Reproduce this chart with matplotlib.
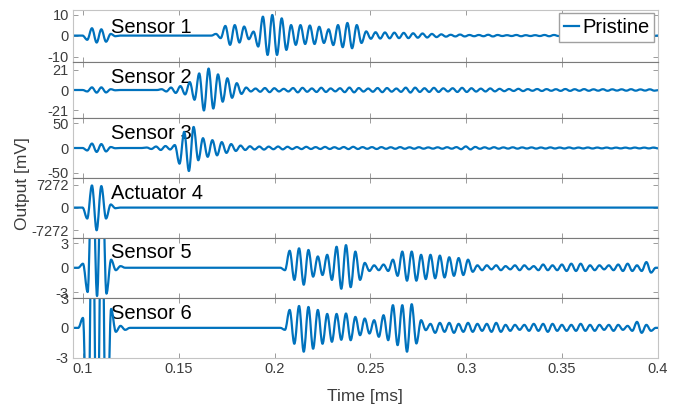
import numpy as np
import matplotlib.pyplot as plt
from matplotlib.path import Path
from matplotlib.patches import PathPatch
from matplotlib.lines import Line2D

plt.rcParams['font.family'] = ['Liberation Sans', 'DejaVu Sans']

BLUE = '#0072BD'
HALF = 0.00245          # half a carrier period [ms]
T_START, T_END = 0.0948, 0.4

# every channel: list of (time of first extremum [ms], successive half-cycle extrema [mV])
sensor1 = [
    (0.10224, [-2.0, 3.5, -3.3, 3.0, -2.9, 0.8, -0.3]),
    (0.16943, [0.8, -1.2, 4.6, -4.4, 5.0, -3.3, 4.3, -1.7, 1.9, -5.2,
               9.0, -9.2, 9.8, -9.2, 8.2, -6.8, 5.0, -4.4, 5.0, -4.0,
               4.8, -4.0, 4.2, -3.5, 3.0, -4.5, 5.0, -5.5, 6.0, -6.0,
               5.0, -3.5, 2.0, -1.5, 1.6, -1.4, 1.5, -1.3, 1.4, -1.2,
               1.3, -1.2, 1.1, -1.0, 1.0, -0.9, 0.8, -0.7, 0.6,
               -0.5, 0.4, -0.4, 0.5, -0.4, 0.3, -0.3, 0.3, -0.3, 0.4,
               -0.4, 0.3, -0.2, 0.2, -0.2, 0.3, -0.3, 0.2, -0.2, 0.2,
               -0.2, 0.3, -0.3, 0.3, -0.2, 0.2, -0.2, 0.2, -0.2, 0.3,
               -0.3, 0.2, -0.2, 0.2, -0.2, 0.2, -0.2, 0.3, -0.3, 0.2,
               -0.2, 0.2, -0.2, 0.2, -0.2]),
]
sensor2 = [
    (0.10224, [-1.5, 2.7, -2.7, 2.7, -2.5, 0.8, -0.3]),
    (0.14108, [0.8, -1.5, 2.5, -3.0, 4.0, -4.5, 8.0, -10, 17, -21,
               22, -19, 16, -12, 12, -8, 7, -4, 2.5, -1.5,
               1.5, -1.8, 2.0, -2.2, 1.8, -1.5, 1.2, -1.5, 2.0, -2.4,
               2.2, -1.8, 1.6, -2.0, 2.3, -2.0, 1.6, -1.4, 1.8, -2.2,
               2.5, -2.4, 2.0, -1.6, 1.5, -1.8, 2.0, -2.2, 2.0, -1.7,
               1.5, -1.9, 2.4, -2.6, 2.4, -2.0, 1.8, -2.0, 2.2, -2.0,
               1.7, -1.5, 1.8, -2.0, 2.2, -2.0, 1.8, -1.6, 1.4, -1.5,
               1.6, -1.4, 1.2, -1.2, 1.0, -1.0, 1.2, -1.1, 0.9, -0.8,
               1.0, -1.0, 0.9, -0.8, 0.8, -0.9, 1.0, -0.9, 0.8, -0.8,
               0.9, -0.8, 0.7, -0.7, 0.8, -0.8, 0.7, -0.6, 0.7, -0.7,
               0.8, -0.7, 0.6, -0.6, 0.7, -0.7]),
]
sensor3 = [
    (0.10224, [-5, 9, -8, 8, -7, 2, -0.5]),
    (0.13325, [1, -2, 3, -4, 4, -3, 6, -32, 33, -47,
               43, -25, 20, -18, 16, -15, 12, -10, 8, -6,
               5, -4, 3.5, -3.0, 3.0, -3.2, 2.8, -2.5, 3.0, -2.8,
               2.5, -2.2, 2.0, -2.2, 2.4, -2.0, 1.8, -2.0, 2.2, -2.0,
               1.6, -1.8, 2.0, -2.2, 2.4, -2.0, 1.8, -1.6, 1.8, -2.0,
               1.8, -1.6, 1.5, -1.6, 1.8, -1.6, 1.4, -1.5, 1.6, -1.4,
               1.2, -1.3, 1.4, -1.5, 1.6, -1.4, 1.8, -2.4, 3.2, -3.0,
               2.2, -1.6, 1.4, -1.5, 1.6, -1.4, 1.2, -1.2, 1.4, -1.3,
               1.2, -1.0, 1.2, -1.2, 1.0, -1.1, 1.2, -1.0, 0.9, -1.0,
               1.1, -1.0, 0.9, -0.9, 1.0, -1.0, 0.9, -0.8, 0.9, -0.9,
               0.8, -0.8, 0.8, -0.9, 0.9, -0.8, 0.8, -0.8, 0.9, -0.8]),
]
actuator4 = [
    (0.10224, [-3500, 7100, -7272, 6900, -3500, 1000, -200]),
]
sensor5 = [
    (0.1000, [0.5, -3.0, 15, -3.5, 15, -3.2, 1.0, -0.3, 0.2]),
    (0.20544, [-0.3, 2.1, -1.5, 2.4, -2.1, 2.2, -1.1, 1.4, -0.9, 1.6,
               -1.5, 2.6, -2.6, 2.8, -2.4, 2.0, -1.5, 0.6, -0.4, 0.3,
               -0.3, 0.4, -0.4, 1.0, -1.0, 2.0, -1.6, 2.0, -1.6, 1.6,
               -1.4, 1.6, -1.3, 1.5, -1.2, 1.3, -1.0, 1.2, -0.9, 1.0,
               -0.5, 0.3, -0.3, 0.3, -0.2, 0.3, -0.3, 0.2, -0.2, 0.3,
               -0.3, 0.3, -0.2, 0.2, -0.3, 0.4, -0.3, 0.3, -0.3, 0.4,
               -0.4, 0.5, -0.4, 0.5, -0.4, 0.3, -0.3, 0.3, -0.2, 0.3,
               -0.3, 0.4, -0.4, 0.5, -0.4, 0.3, -0.4, 0.7, -0.6]),
]
sensor6 = [
    (0.1000, [1.0, -15, 15, -15, 15, -15, 1.9, -0.4, 0.2, -0.2]),
    (0.20544, [-0.2, 1.8, -1.6, 2.2, -2.4, 2.1, -2.1, 1.8, -1.6, 1.4,
               -1.4, 1.4, -1.2, 1.44, -1.24, 1.1, -0.74, 0.94, -0.57, 0.77,
               -0.9, 1.27, -1.24, 2.28, -1.74, 2.28, -2.4, 2.38, -1.57, 0.77,
               -0.23, 0.4, -0.5, 0.5, -0.4, 0.5, -0.5, 0.4, -0.4, 0.5,
               -0.4, 0.4, -0.3, 0.4, -0.4, 0.5, -0.4, 0.3, -0.3, 0.3,
               -0.2, 0.3, -0.3, 0.4, -0.3, 0.4, -0.4, 0.4, -0.3, 0.3,
               -0.3, 0.3, -0.3, 0.4, -0.3, 0.3, -0.3, 0.3, -0.2, 0.3,
               -0.3, 0.3, -0.2, 0.2, -0.3, 0.6, -0.5, 0.3, -0.3]),
]

channels = [sensor1, sensor2, sensor3, actuator4, sensor5, sensor6]
names = ['Sensor 1', 'Sensor 2', 'Sensor 3', 'Actuator 4', 'Sensor 5', 'Sensor 6']
tick_amp = [10, 21, 50, 7272, 3, 3]
y_half = [12.4, 29.0, 60.6, 9580, 3.74, 3.0]
x_ticks = [0.1, 0.15, 0.2, 0.25, 0.3, 0.35, 0.4]
x_tick_labels = ['0.1', '0.15', '0.2', '0.25', '0.3', '0.35', '0.4']

# panel edges in pixels from the top of the figure
W, H = 683, 409
edges = [9.5, 61.7, 118.3, 177.7, 237.5, 298.0, 357.7]
left, right = 73, 657.7


def extrema(segments):
    pts = [(T_START - 0.003, 0.0)]
    for t0, vals in segments:
        ts = t0 + HALF * np.arange(len(vals))
        pts.append((t0 - HALF, 0.0))
        pts.extend(zip(ts, vals))
        pts.append((ts[-1] + HALF, 0.0))
    if pts[-1][0] < T_END:
        pts.append((T_END + 0.003, 0.0))
    return pts


def smooth_path(pts, k=0.36):
    # cubic pieces with flat tangents at every extremum
    verts = [pts[0]]
    codes = [Path.MOVETO]
    for (ta, ya), (tb, yb) in zip(pts[:-1], pts[1:]):
        dt = tb - ta
        verts += [(ta + k * dt, ya), (tb - k * dt, yb), (tb, yb)]
        codes += [Path.CURVE4] * 3
    return Path(verts, codes)


fig = plt.figure(figsize=(W / 100, H / 100), dpi=100)
axes = []
for i, segs in enumerate(channels):
    top, bot = edges[i], edges[i + 1]
    ax = fig.add_axes([left / W, 1 - bot / H, (right - left) / W, (bot - top) / H])
    axes.append(ax)

    ax.add_patch(PathPatch(smooth_path(extrema(segs)), fill=False,
                           edgecolor=BLUE, lw=1.6, joinstyle='round',
                           capstyle='round', zorder=2))

    ax.set_xlim(T_START, T_END)
    ax.set_ylim(-y_half[i], y_half[i])
    a = tick_amp[i]
    ax.set_yticks([-a, 0, a])
    ax.set_yticklabels([str(-a), '0', str(a)])
    ax.set_xticks(x_ticks)
    ax.set_xticklabels(x_tick_labels)
    ax.tick_params(direction='in', length=3.5, width=0.6, color='#8c8c8c',
                   top=True, right=True, labelsize=10.5, labelcolor='#3c3c3c',
                   pad=3, labelbottom=(i == len(channels) - 1))
    for s in ax.spines.values():
        s.set_color('#c4c4c4')
        s.set_linewidth(0.8)
    if i > 0:
        ax.spines['top'].set_color('#7a7a7a')
    if i < len(channels) - 1:
        ax.spines['bottom'].set_color('#7a7a7a')

    ax.annotate(names[i], xy=(0.1146, 1), xycoords=('data', 'axes fraction'),
                xytext=(0, -23.5 if i == 0 else -21), textcoords='offset pixels',
                va='baseline', ha='left', fontsize=14.5, color='black', zorder=1)

axes[0].legend(handles=[Line2D([], [], color=BLUE, lw=1.6)], labels=['Pristine'],
               loc='upper right', bbox_to_anchor=(1.0, 1.0), borderaxespad=0.17,
               fontsize=14.5, handlelength=0.75, handletextpad=0.15,
               borderpad=0.25, fancybox=False, edgecolor='#a0a0a0',
               framealpha=1)

fig.text(22.5 / W, 1 - 183.5 / H, 'Output [mV]', rotation=90, ha='center',
         va='center', fontsize=12.5, color='#3c3c3c')
fig.text(365 / W, 1 - 397 / H, 'Time [ms]', ha='center', va='center',
         fontsize=12.5, color='#3c3c3c')

fig.savefig('out.png', dpi=100)
